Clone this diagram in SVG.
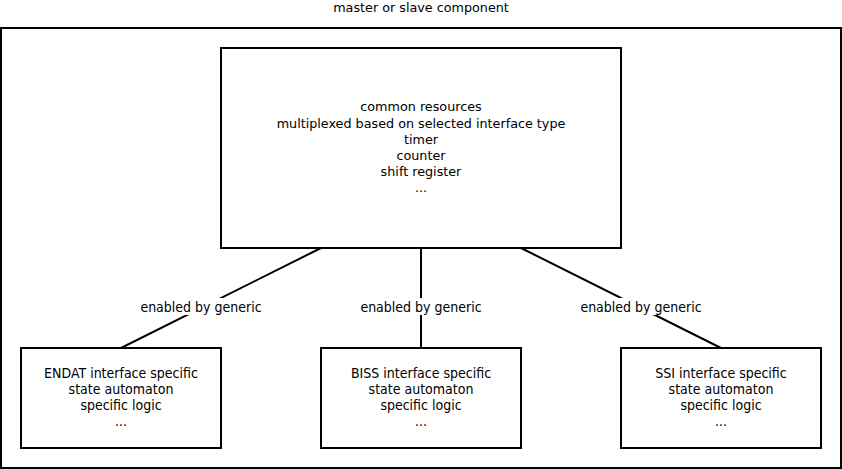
<svg xmlns="http://www.w3.org/2000/svg" width="842" height="469" viewBox="0 0 842 469">
<style>
.box{fill:#fff;stroke:#000;stroke-width:2}
.t{font-family:"DejaVu Sans",sans-serif;font-size:12.75px;text-anchor:middle;fill:#000}
.c{font-family:"DejaVu Sans Condensed","DejaVu Sans",sans-serif;font-stretch:condensed;font-size:14px}
.edge{stroke:#000;stroke-width:2;fill:none}
.lbg{fill:#fff}
</style>
<rect width="842" height="469" fill="#fff"/>
<text class="t" x="421" y="12">master or slave component</text>
<g id="container"><rect class="box" x="1" y="28" width="840" height="440"/></g>
<g id="connectors">
<line class="edge" x1="321" y1="248" x2="121" y2="348"/>
<line class="edge" x1="421" y1="248" x2="421" y2="348"/>
<line class="edge" x1="521" y1="248" x2="721" y2="348"/>
<rect class="lbg" x="137" y="298" width="128" height="17"/>
<rect class="lbg" x="357" y="298" width="128" height="17"/>
<rect class="lbg" x="577" y="298" width="128" height="17"/>
<text class="t c" x="201" y="312">enabled by generic</text>
<text class="t c" x="421" y="312">enabled by generic</text>
<text class="t c" x="641" y="312">enabled by generic</text>
</g>
<g id="common">
<rect class="box" x="221" y="48" width="400" height="200"/>
<text class="t" x="421" y="111">common resources</text>
<text class="t" x="421" y="128">multiplexed based on selected interface type</text>
<text class="t" x="421" y="144">timer</text>
<text class="t" x="421" y="160">counter</text>
<text class="t" x="421" y="176">shift register</text>
<text class="t" x="421" y="192">...</text>
</g>
<g id="endat">
<rect class="box" x="21" y="348" width="200" height="100"/>
<text class="t c" x="121" y="378">ENDAT interface specific</text>
<text class="t c" x="121" y="394">state automaton</text>
<text class="t c" x="121" y="410">specific logic</text>
<text class="t c" x="121" y="426">...</text>
</g>
<g id="biss">
<rect class="box" x="321" y="348" width="200" height="100"/>
<text class="t c" x="421" y="378">BISS interface specific</text>
<text class="t c" x="421" y="394">state automaton</text>
<text class="t c" x="421" y="410">specific logic</text>
<text class="t c" x="421" y="426">...</text>
</g>
<g id="ssi">
<rect class="box" x="621" y="348" width="200" height="100"/>
<text class="t c" x="721" y="378">SSI interface specific</text>
<text class="t c" x="721" y="394">state automaton</text>
<text class="t c" x="721" y="410">specific logic</text>
<text class="t c" x="721" y="426">...</text>
</g>
</svg>
